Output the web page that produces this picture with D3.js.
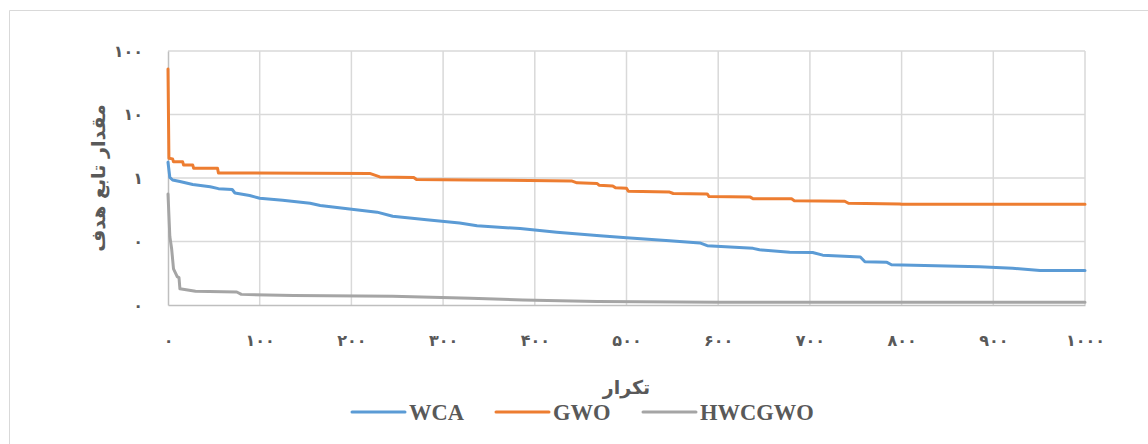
<!DOCTYPE html>
<html><head><meta charset="utf-8">
<script src="https://cdn.jsdelivr.net/npm/d3@7"></script>
<style>body{margin:0;background:#fff}svg{display:block}</style>
</head><body>
<svg id="c" width="1148" height="444"></svg>
<script>
// ---- data ----
const seriesNames = ["WCA", "GWO", "HWCGWO"];
const seriesColors = ["#5B9BD5", "#ED7D31", "#A5A5A5"];

const wcaIter = [0,2,5,13,27,46,55,70,73,89,100,125,155,166,198,228,245,282,318,337,384,424,471,500,547,580,588,638,645,678,703,714,755,760,784,789,885,921,951,1000];
const wcaVal  = [1.77,1.02,0.93,0.88,0.79,0.73,0.68,0.66,0.58,0.53,0.48,0.445,0.40,0.37,0.325,0.29,0.25,0.22,0.195,0.177,0.16,0.14,0.123,0.115,0.103,0.095,0.086,0.078,0.074,0.068,0.067,0.061,0.057,0.048,0.047,0.043,0.040,0.038,0.035,0.035];

const gwoIter = [0,1,5,6,16,17,27,28,54,55,220,231,268,271,329,440,446,468,470,485,488,500,502,547,551,588,590,635,638,680,683,738,742,798,800,1000];
const gwoVal  = [52,2.05,2.0,1.8,1.8,1.6,1.6,1.42,1.42,1.2,1.18,1.04,1.02,0.95,0.93,0.9,0.84,0.82,0.77,0.75,0.70,0.69,0.62,0.60,0.57,0.56,0.51,0.50,0.47,0.47,0.44,0.43,0.40,0.39,0.385,0.385];

const hybIter = [0,2,4,6,9,10,12,13,30,75,80,137,245,330,387,468,602,1000];
const hybVal  = [0.56,0.12,0.076,0.037,0.03,0.028,0.027,0.018,0.0165,0.016,0.0147,0.0141,0.0137,0.0128,0.012,0.0114,0.011,0.011];

const xTicks = [0,100,200,300,400,500,600,700,800,900,1000];
const yTicks = [0.01,0.1,1,10,100];
const yTickLabels = ["۰","۰","۱","۱۰","۱۰۰"];
const xTitle = "تکرار";
const yTitle = "مقدار تابع هدف";

// ---- drawing ----
const fa = s => String(s).replace(/[0-9]/g, d => "۰۱۲۳۴۵۶۷۸۹"[+d]);
const svg = d3.select("#c");
const x = d3.scaleLinear().domain([0,1000]).range([168,1085]);
const y = d3.scaleLog().domain([0.01,100]).range([305,51]);

// chart frame
svg.append("path").attr("d","M9.5,444 V10.5 H1148").attr("fill","none").attr("stroke","#d9d9d9").attr("stroke-width",1);

// gridlines
const g = svg.append("g");
g.selectAll(".gx").data(xTicks.slice(1)).join("line")
  .attr("x1",d=>x(d)).attr("x2",d=>x(d)).attr("y1",y(100)).attr("y2",y(0.01))
  .attr("stroke","#d9d9d9").attr("stroke-width",1.5);
g.selectAll(".gy").data(yTicks.slice(1)).join("line")
  .attr("x1",x(0)).attr("x2",x(1000)).attr("y1",d=>y(d)).attr("y2",d=>y(d))
  .attr("stroke","#d9d9d9").attr("stroke-width",1.5);

// axes
const xa = svg.append("g").attr("transform",`translate(0,${y(0.01)})`)
  .call(d3.axisBottom(x).tickValues(xTicks).tickSize(0).tickFormat(fa));
xa.select(".domain").attr("stroke","#bfbfbf").attr("stroke-width",1.5);
xa.selectAll("text").attr("dy",0).attr("y",41).attr("fill","#595959")
  .style("font-family","DejaVu Sans").style("font-weight","bold").style("font-size","16px");

const ya = svg.append("g").attr("transform",`translate(${x(0)},0)`)
  .call(d3.axisLeft(y).tickValues(yTicks).tickSize(0).tickFormat((d,i)=>yTickLabels[i]));
ya.select(".domain").attr("stroke","#bfbfbf").attr("stroke-width",1.5);
ya.selectAll("text").attr("x",-25).attr("fill","#595959")
  .style("font-family","DejaVu Sans").style("font-weight","bold").style("font-size","16px");

// lines
const iters = [wcaIter, gwoIter, hybIter];
const vals = [wcaVal, gwoVal, hybVal];
const line = d3.line().x(d=>x(d[0])).y(d=>y(d[1]));
[2,1,0].forEach(k=>{
  const pts = iters[k].map((it,i)=>[it, vals[k][i]]);
  svg.append("path").attr("d", line(pts)).attr("fill","none")
    .attr("stroke", seriesColors[k]).attr("stroke-width",3)
    .attr("stroke-linejoin","round").attr("stroke-linecap","round");
});

// titles
svg.append("text").attr("transform","translate(105,178) rotate(-90)")
  .attr("text-anchor","middle").attr("fill","#595959")
  .style("font-family","DejaVu Sans").style("font-weight","bold").style("font-size","19px")
  .text(yTitle);
svg.append("text").attr("x",(x(0)+x(1000))/2).attr("y",394)
  .attr("text-anchor","middle").attr("fill","#595959")
  .style("font-family","DejaVu Sans").style("font-weight","bold").style("font-size","19px")
  .text(xTitle);

// legend
const legX = [352, 496, 643];
seriesNames.forEach((n,k)=>{
  svg.append("line").attr("x1",legX[k]).attr("x2",legX[k]+53).attr("y1",412).attr("y2",412)
    .attr("stroke",seriesColors[k]).attr("stroke-width",3).attr("stroke-linecap","round");
  svg.append("text").attr("x",legX[k]+57).attr("y",420).attr("fill","#595959")
    .style("font-family","Liberation Serif").style("font-weight","bold").style("font-size","22.5px")
    .text(n);
});
</script>
</body></html>
